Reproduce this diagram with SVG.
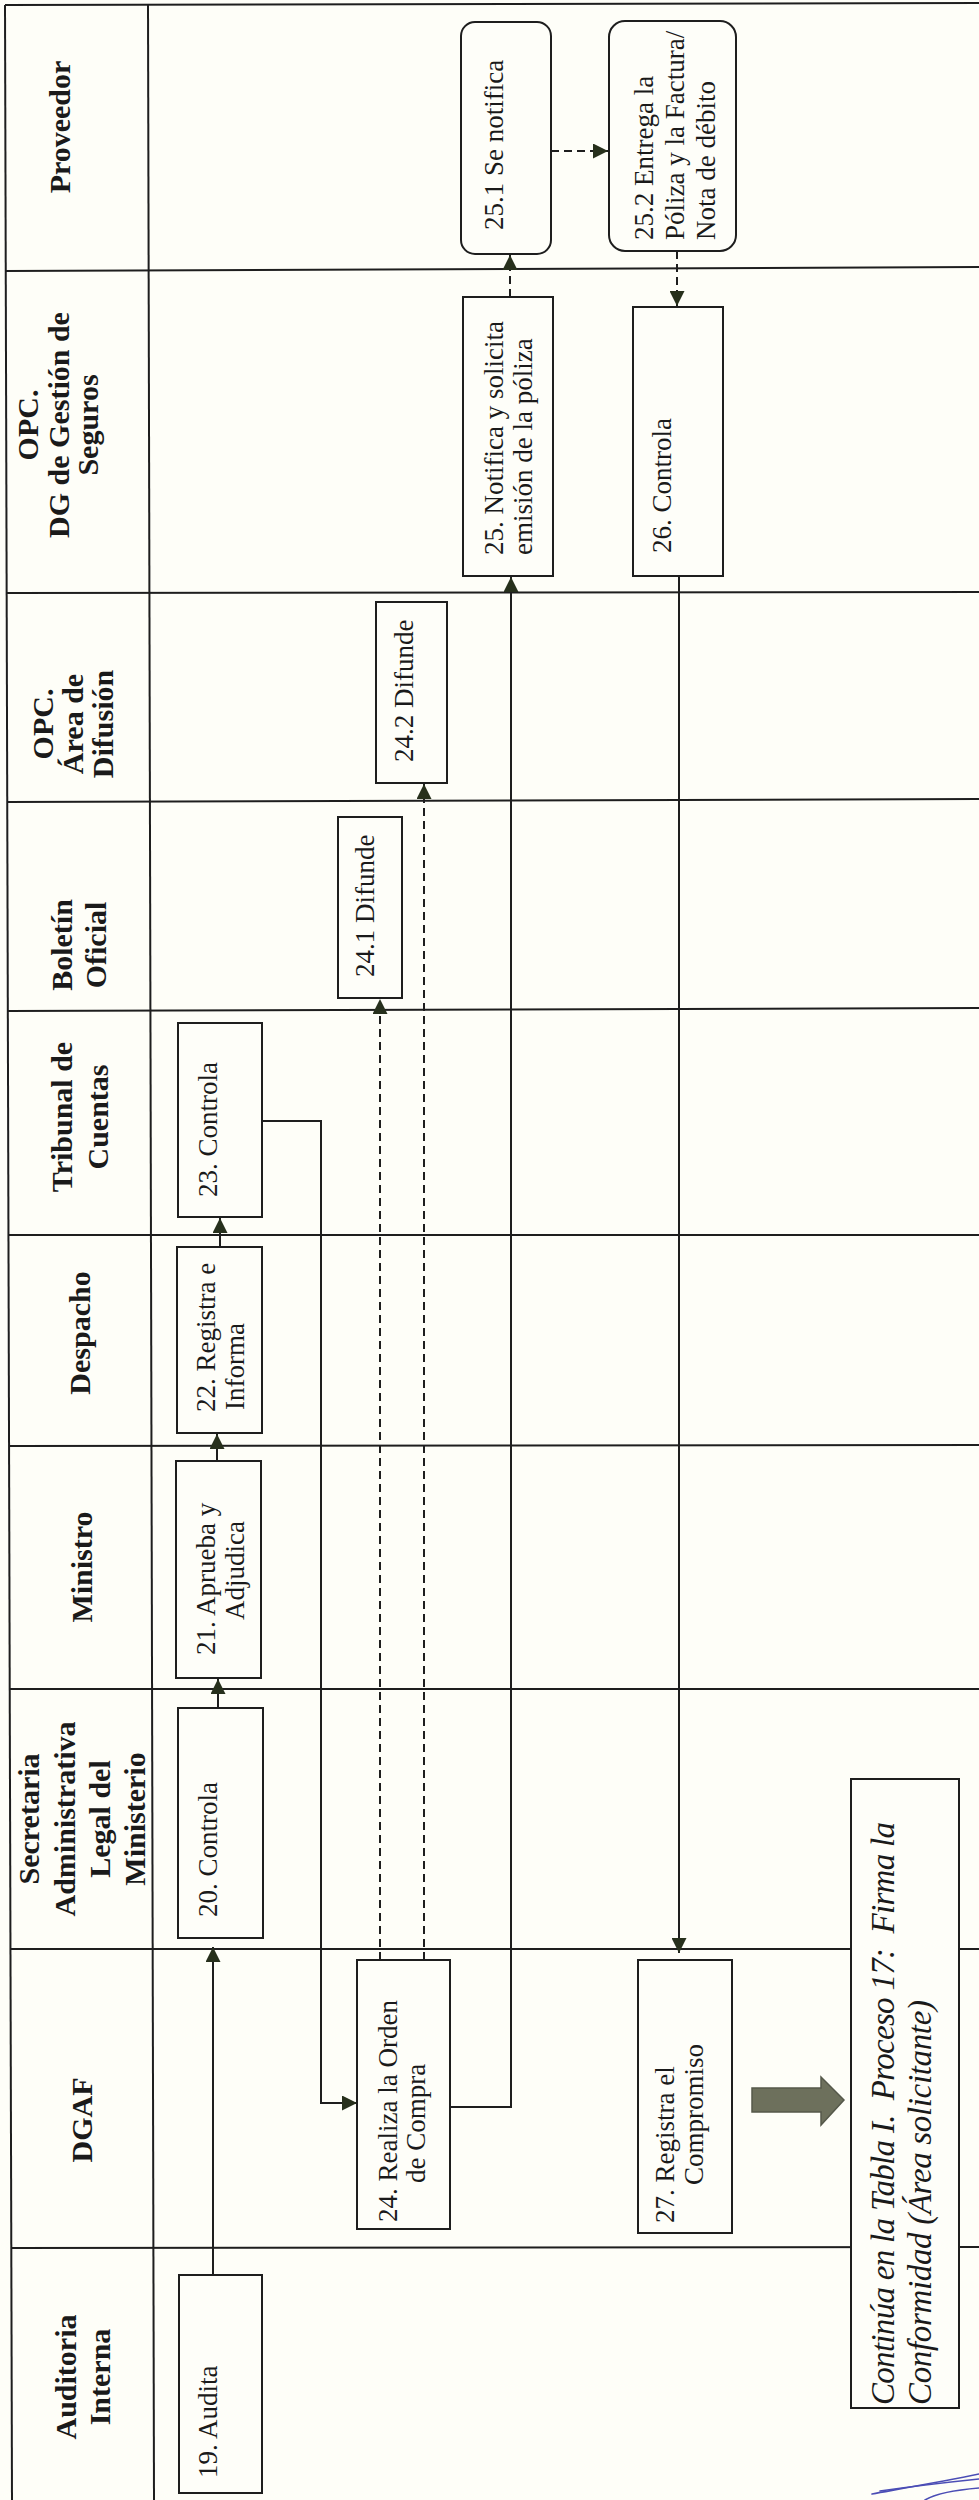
<svg xmlns="http://www.w3.org/2000/svg" width="979" height="2500" viewBox="0 0 979 2500">
  <style>
    .grid { stroke: #1e1e1e; stroke-width: 2; fill: none; }
    .hdr { font-family: "Liberation Serif", "DejaVu Serif", serif; font-weight: bold; font-size: 30px; fill: #1a1a1a; }
    .lbl { font-family: "Liberation Serif", "DejaVu Serif", serif; font-size: 27px; fill: #1a1a1a; }
    .note { font-family: "Liberation Serif", "DejaVu Serif", serif; font-style: italic; font-size: 33px; fill: #1a1a1a; }
    .box { fill: #fefef9; stroke: #1e1e1e; stroke-width: 2; }
    .flow { fill: none; stroke: #1e1e1e; stroke-width: 2; }
    .dash { fill: none; stroke: #1e1e1e; stroke-width: 2; stroke-dasharray: 8 5; }
  </style>
  <defs>
    <marker id="ah" viewBox="0 0 15 15" refX="15" refY="7.5" markerWidth="15" markerHeight="15" markerUnits="userSpaceOnUse" orient="auto">
      <path d="M0,0 L15,7.5 L0,15 z" fill="#27301c"/>
    </marker>
  </defs>

  <rect width="979" height="2500" fill="#fefef8"/>

  <!-- swimlane grid -->
  <g id="grid" class="grid">
    <line x1="5" y1="5" x2="979" y2="3"/>
    <line x1="5" y1="5" x2="12" y2="2500"/>
    <line x1="148" y1="5" x2="154" y2="2500"/>
    <line x1="5" y1="271" x2="979" y2="267"/>
    <line x1="6" y1="593" x2="979" y2="592"/>
    <line x1="7" y1="802" x2="979" y2="799"/>
    <line x1="8" y1="1011" x2="979" y2="1008"/>
    <line x1="8" y1="1235" x2="979" y2="1235"/>
    <line x1="9" y1="1446" x2="979" y2="1445"/>
    <line x1="10" y1="1689" x2="979" y2="1689"/>
    <line x1="11" y1="1949" x2="979" y2="1949"/>
    <line x1="11" y1="2248" x2="979" y2="2247"/>
  </g>

  <!-- lane headers -->
  <g id="lane-proveedor" class="hdr" text-anchor="middle">
    <text transform="translate(70,127) rotate(-90)">Proveedor</text>
  </g>
  <g id="lane-seguros" class="hdr" text-anchor="middle">
    <text transform="translate(38,425) rotate(-90)">OPC.</text>
    <text transform="translate(69,425) rotate(-90)">DG de Gestión de</text>
    <text transform="translate(98,425) rotate(-90)">Seguros</text>
  </g>
  <g id="lane-difusion" class="hdr" text-anchor="middle">
    <text transform="translate(53,724) rotate(-90)">OPC.</text>
    <text transform="translate(83,724) rotate(-90)">Área de</text>
    <text transform="translate(113,724) rotate(-90)">Difusión</text>
  </g>
  <g id="lane-boletin" class="hdr" text-anchor="middle">
    <text transform="translate(72,945) rotate(-90)">Boletín</text>
    <text transform="translate(106,945) rotate(-90)">Oficial</text>
  </g>
  <g id="lane-tribunal" class="hdr" text-anchor="middle">
    <text transform="translate(72,1117) rotate(-90)">Tribunal de</text>
    <text transform="translate(108,1117) rotate(-90)">Cuentas</text>
  </g>
  <g id="lane-despacho" class="hdr" text-anchor="middle">
    <text transform="translate(90,1333) rotate(-90)">Despacho</text>
  </g>
  <g id="lane-ministro" class="hdr" text-anchor="middle">
    <text transform="translate(92,1567) rotate(-90)">Ministro</text>
  </g>
  <g id="lane-secretaria" class="hdr" text-anchor="middle">
    <text transform="translate(39,1819) rotate(-90)">Secretaria</text>
    <text transform="translate(75,1819) rotate(-90)">Administrativa</text>
    <text transform="translate(110,1819) rotate(-90)">Legal del</text>
    <text transform="translate(145,1819) rotate(-90)">Ministerio</text>
  </g>
  <g id="lane-dgaf" class="hdr" text-anchor="middle">
    <text transform="translate(92,2120) rotate(-90)">DGAF</text>
  </g>
  <g id="lane-auditoria" class="hdr" text-anchor="middle">
    <text transform="translate(76,2377) rotate(-90)">Auditoria</text>
    <text transform="translate(110,2377) rotate(-90)">Interna</text>
  </g>

  <!-- connectors -->
  <g id="connectors">
    <path class="flow" d="M213,2275 V1947" marker-end="url(#ah)"/>
    <path class="flow" d="M218,1708 V1679" marker-end="url(#ah)"/>
    <path class="flow" d="M217,1461 V1434" marker-end="url(#ah)"/>
    <path class="flow" d="M220,1247 V1218" marker-end="url(#ah)"/>
    <path class="flow" d="M262,1121 H321 V2103 H357" marker-end="url(#ah)"/>
    <path class="dash" d="M380,1960 V999" marker-end="url(#ah)"/>
    <path class="dash" d="M424,1960 V784" marker-end="url(#ah)"/>
    <path class="flow" d="M451,2107 H511 V577" marker-end="url(#ah)"/>
    <path class="dash" d="M510,297 V255" marker-end="url(#ah)"/>
    <path class="dash" d="M551,151 H608" marker-end="url(#ah)"/>
    <path class="dash" d="M677,251 V306" marker-end="url(#ah)"/>
    <path class="flow" d="M679,576 V1953" marker-end="url(#ah)"/>
  </g>

  <!-- activity nodes -->
  <g id="node-19">
    <rect class="box" x="179" y="2275" width="83" height="218"/>
    <text class="lbl" transform="translate(217,2478) rotate(-90)">19. Audita</text>
  </g>
  <g id="node-20">
    <rect class="box" x="178" y="1708" width="85" height="230"/>
    <text class="lbl" transform="translate(217,1917) rotate(-90)">20. Controla</text>
  </g>
  <g id="node-21">
    <rect class="box" x="176" y="1461" width="85" height="217"/>
    <text class="lbl" transform="translate(215,1655) rotate(-90)">21. Aprueba y</text>
    <text class="lbl" transform="translate(244,1620) rotate(-90)">Adjudica</text>
  </g>
  <g id="node-22">
    <rect class="box" x="177" y="1247" width="85" height="186"/>
    <text class="lbl" transform="translate(215,1412) rotate(-90)">22. Registra e</text>
    <text class="lbl" transform="translate(244,1410) rotate(-90)">Informa</text>
  </g>
  <g id="node-23">
    <rect class="box" x="178" y="1023" width="84" height="194"/>
    <text class="lbl" transform="translate(217,1197) rotate(-90)">23. Controla</text>
  </g>
  <g id="node-24">
    <rect class="box" x="357" y="1960" width="93" height="269"/>
    <text class="lbl" transform="translate(397,2222) rotate(-90)">24. Realiza la Orden</text>
    <text class="lbl" transform="translate(425,2183) rotate(-90)">de Compra</text>
  </g>
  <g id="node-24-1">
    <rect class="box" x="338" y="817" width="64" height="181"/>
    <text class="lbl" transform="translate(374,977) rotate(-90)">24.1 Difunde</text>
  </g>
  <g id="node-24-2">
    <rect class="box" x="376" y="602" width="71" height="181"/>
    <text class="lbl" transform="translate(413,762) rotate(-90)">24.2 Difunde</text>
  </g>
  <g id="node-25">
    <rect class="box" x="463" y="297" width="90" height="279"/>
    <text class="lbl" transform="translate(503,555) rotate(-90)">25. Notifica y solicita</text>
    <text class="lbl" transform="translate(532,555) rotate(-90)">emisión de la póliza</text>
  </g>
  <g id="node-25-1">
    <rect class="box" x="461" y="22" width="90" height="232" rx="14"/>
    <text class="lbl" transform="translate(503,230) rotate(-90)">25.1 Se notifica</text>
  </g>
  <g id="node-25-2">
    <rect class="box" x="609" y="21" width="127" height="230" rx="16"/>
    <text class="lbl" transform="translate(653,240) rotate(-90)">25.2 Entrega la</text>
    <text class="lbl" transform="translate(684,240) rotate(-90)">Póliza y la Factura/</text>
    <text class="lbl" transform="translate(715,240) rotate(-90)">Nota de débito</text>
  </g>
  <g id="node-26">
    <rect class="box" x="633" y="307" width="90" height="269"/>
    <text class="lbl" transform="translate(671,553) rotate(-90)">26. Controla</text>
  </g>
  <g id="node-27">
    <rect class="box" x="638" y="1960" width="94" height="273"/>
    <text class="lbl" transform="translate(674,2223) rotate(-90)">27. Registra el</text>
    <text class="lbl" transform="translate(703,2185) rotate(-90)">Compromiso</text>
  </g>

  <!-- continuation marker -->
  <g id="continuation-arrow">
    <path d="M752,2088 H821 V2077 L844,2100 L821,2125 V2112 H752 z" fill="#6d705c" stroke="#55584a" stroke-width="1.5"/>
  </g>
  <g id="continuation">
    <rect class="box" x="851" y="1779" width="108" height="629"/>
    <text class="note" xml:space="preserve" transform="translate(894,2405) rotate(-90)" textLength="583" lengthAdjust="spacing">Continúa en la Tabla I.  Proceso 17:  Firma la</text>
    <text class="note" transform="translate(931,2405) rotate(-90)" textLength="405" lengthAdjust="spacing">Conformidad (Área solicitante)</text>
  </g>

  <!-- signature strokes -->
  <g id="signature" fill="none" stroke="#4b4db5" stroke-width="1.6" stroke-linecap="round">
    <path d="M872,2494 C905,2488 945,2481 979,2474"/>
    <path d="M880,2491 C915,2486 950,2482 979,2479"/>
    <path d="M925,2500 C935,2494 955,2490 979,2488"/>
  </g>
</svg>
